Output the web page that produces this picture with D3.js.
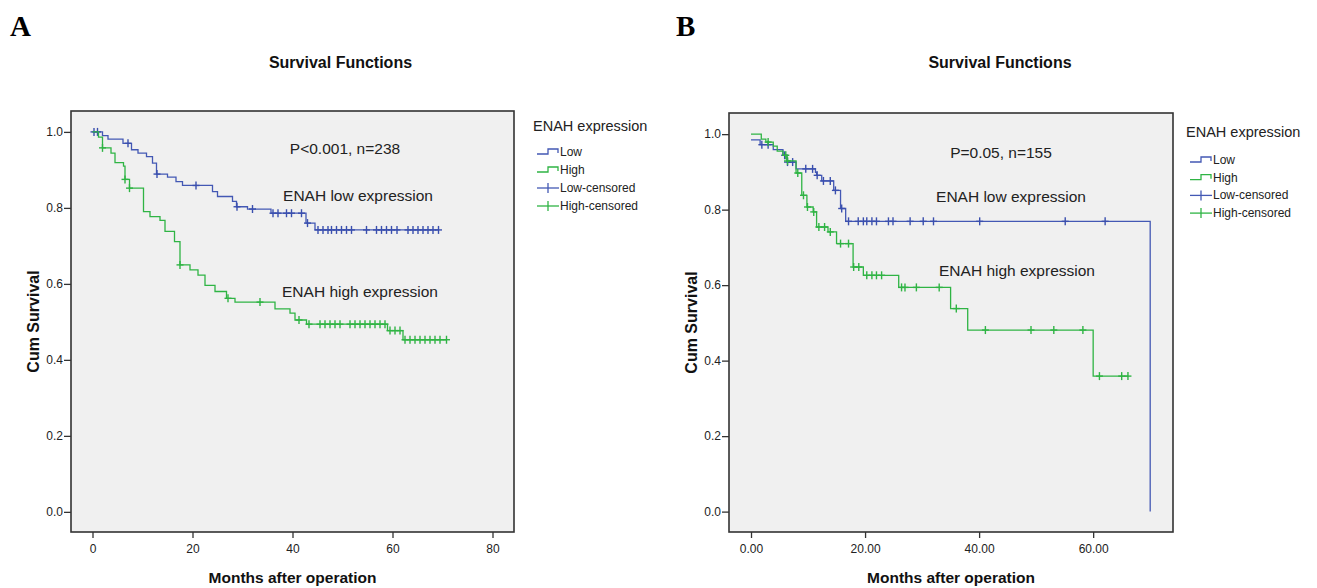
<!DOCTYPE html>
<html>
<head>
<meta charset="utf-8">
<script src="https://cdn.jsdelivr.net/npm/d3@7"></script>
<style>
  body { margin: 0; background: #fff; }
  text { font-family: "Liberation Sans", Arial, sans-serif; }
</style>
</head>
<body>
<div id="chart-area"></div>
<script>
// ---- data ----
// panel A: step times (months) and survival after each step
var lowTimeA  = [0, 2, 3.1, 6.1, 7.8, 9.1, 10.8, 12, 12.8, 15, 16.7, 18, 24, 25, 28, 28.8, 31, 35.7, 42.7, 44.5];
var lowSurvA  = [1.0, 0.990, 0.981, 0.970, 0.953, 0.944, 0.935, 0.918, 0.889, 0.881, 0.869, 0.859, 0.843, 0.830, 0.817, 0.803, 0.797, 0.786, 0.760, 0.742];
var lowCensA  = [0.3, 1.0, 7.1, 12.9, 20.7, 28.9, 32, 36.1, 37.1, 38.8, 39.8, 41.8, 43, 45.1, 46.1, 47.1, 47.8, 48.8, 49.8, 50.8, 51.8, 54.8, 56.8, 57.8, 58.8, 59.8, 60.9, 63.1, 64.1, 65.1, 66.1, 67.1, 68.1, 69.2];

var highTimeA = [0, 1.2, 2, 3.7, 4.5, 6.2, 6.5, 7.4, 10.2, 11.5, 13.5, 14.5, 16.4, 17.5, 19.5, 21.1, 22.5, 24.5, 26.8, 28.5, 36.5, 39.5, 40.5, 42.8, 59, 62.1];
var highSurvA = [1.0, 0.986, 0.958, 0.944, 0.919, 0.910, 0.875, 0.852, 0.790, 0.777, 0.767, 0.738, 0.711, 0.650, 0.637, 0.623, 0.596, 0.580, 0.562, 0.552, 0.534, 0.523, 0.505, 0.494, 0.477, 0.453];
var highCensA = [2, 6.5, 7.4, 17.5, 27.1, 33.5, 41.3, 43.3, 45.5, 46.5, 47.5, 48.5, 49.5, 51.5, 52.5, 53.5, 54.5, 55.5, 56.5, 57.5, 58.5, 59.5, 60.5, 61.5, 62.5, 63.5, 64.5, 65.5, 66.5, 67.5, 68.5, 69.5, 70.8];

// panel B
var lowTimeB  = [0, 1.6, 3.9, 5.6, 6.3, 7.9, 11.3, 11.5, 12.4, 14.5, 15.7, 16.6, 70];
var lowSurvB  = [0.985, 0.972, 0.959, 0.944, 0.926, 0.908, 0.899, 0.891, 0.876, 0.851, 0.803, 0.769, 0];
var lowCensB  = [1.9, 3.0, 5.9, 6.4, 7.3, 9.6, 10.8, 11.6, 12.7, 13.9, 14.8, 15.9, 17.1, 18.8, 19.7, 20.3, 21.2, 22.0, 24.1, 24.9, 27.9, 30.2, 32.0, 40.1, 55.1, 62.1];

var highTimeB = [0, 1.8, 2.6, 3.9, 4.6, 5.6, 6.3, 7.9, 8.9, 9.8, 10.9, 11.5, 13.5, 15.0, 17.9, 19.7, 25.9, 35.0, 38.0, 60.0];
var highSurvB = [1.0, 0.987, 0.979, 0.968, 0.955, 0.944, 0.929, 0.897, 0.838, 0.807, 0.794, 0.754, 0.741, 0.710, 0.648, 0.626, 0.594, 0.538, 0.481, 0.359];
var highCensB = [3.0, 6.1, 6.4, 8.2, 9.2, 9.9, 11.0, 11.9, 12.9, 13.9, 15.7, 17.1, 18.0, 18.9, 20.3, 21.2, 22.0, 22.9, 26.4, 27.0, 29.0, 33.0, 36.0, 41.1, 49.1, 53.1, 58.2, 61.1, 65.0, 66.1];

var xTicksA = [0, 20, 40, 60, 80];
var xTicksB = [0, 20, 40, 60];
var yTicks  = [0, 0.2, 0.4, 0.6, 0.8, 1.0];
var legendLabels = ["Low", "High", "Low-censored", "High-censored"];

var blue  = "#4358b4";
var green = "#2fb444";

var svg = d3.select("#chart-area")
    .append("svg")
        .attr("width", 1317)
        .attr("height", 588);

function survAt(times, surv, t) {
    var s = surv[0];
    for (var i = 0; i < times.length; i++) {
        if (times[i] <= t) s = surv[i];
    }
    return s;
}

function drawPanel(p) {
    var x = d3.scaleLinear().domain(p.xDomain).range([p.left, p.right]);
    var y = d3.scaleLinear().domain(p.yDomain).range([p.bottom, p.top]);

    svg.append("text")
        .attr("x", p.letterX).attr("y", 36)
        .style("font-family", "Liberation Serif, Times New Roman, serif")
        .attr("font-weight", "bold")
        .attr("font-size", "29px")
        .text(p.letter);

    svg.append("text")
        .attr("x", (p.left + p.right) / 2 + p.titleShift).attr("y", 68)
        .attr("text-anchor", "middle")
        .attr("font-weight", "bold")
        .attr("font-size", "16px")
        .attr("fill", "#111")
        .text("Survival Functions");

    svg.append("rect")
        .attr("x", p.left).attr("y", p.top)
        .attr("width", p.right - p.left).attr("height", p.bottom - p.top)
        .attr("fill", "#f0f0f0")
        .attr("stroke", "#333")
        .attr("stroke-width", 1.6);

    var yAxis = svg.append("g")
        .attr("transform", "translate(" + p.left + ",0)")
        .call(d3.axisLeft(y).tickValues(yTicks).tickFormat(d3.format(".1f")).tickSize(7).tickSizeOuter(0).tickPadding(1));
    yAxis.select(".domain").remove();
    yAxis.selectAll("line").attr("stroke", "#333").attr("stroke-width", 1.3);
    yAxis.selectAll("text").attr("font-size", "12px").attr("fill", "#222")
        .style("font-family", "Liberation Sans, Arial, sans-serif");

    var xAxis = svg.append("g")
        .attr("transform", "translate(0," + p.bottom + ")")
        .call(d3.axisBottom(x).tickValues(p.xTicks).tickFormat(p.xFormat).tickSize(6).tickSizeOuter(0).tickPadding(6));
    xAxis.select(".domain").remove();
    xAxis.selectAll("line").attr("stroke", "#333").attr("stroke-width", 1.3);
    xAxis.selectAll("text").attr("font-size", "12px").attr("fill", "#222")
        .style("font-family", "Liberation Sans, Arial, sans-serif");

    svg.append("text")
        .attr("x", (p.left + p.right) / 2).attr("y", 583)
        .attr("text-anchor", "middle")
        .attr("font-weight", "bold")
        .attr("font-size", "15.5px")
        .attr("fill", "#111")
        .text("Months after operation");

    svg.append("text")
        .attr("transform", "translate(" + p.yLabelX + "," + (p.top + p.bottom) / 2 + ") rotate(-90)")
        .attr("text-anchor", "middle")
        .attr("font-weight", "bold")
        .attr("font-size", "16px")
        .attr("fill", "#111")
        .text("Cum Survival");

    var line = d3.line()
        .x(function(d) { return x(d[0]); })
        .y(function(d) { return y(d[1]); })
        .curve(d3.curveStepAfter);

    p.series.forEach(function(s) {
        var pts = s.times.map(function(t, i) { return [t, s.surv[i]]; });
        var lastT = d3.max(s.cens);
        if (lastT > s.times[s.times.length - 1]) {
            pts.push([lastT, s.surv[s.surv.length - 1]]);
        }
        svg.append("path")
            .attr("d", line(pts))
            .attr("fill", "none")
            .attr("stroke", s.color)
            .attr("stroke-width", 1.3);

        var marks = svg.append("g").selectAll("g")
            .data(s.cens)
            .enter()
            .append("g")
                .attr("transform", function(t) {
                    return "translate(" + x(t) + "," + y(survAt(s.times, s.surv, t)) + ")";
                });
        marks.append("line")
            .attr("x1", 0).attr("x2", 0).attr("y1", -4).attr("y2", 4)
            .attr("stroke", s.markColor).attr("stroke-width", 1.4);
        marks.append("line")
            .attr("x1", -3.5).attr("x2", 3.5).attr("y1", 0).attr("y2", 0)
            .attr("stroke", s.markColor).attr("stroke-width", 1.4);
    });

    p.notes.forEach(function(n) {
        svg.append("text")
            .attr("x", n.x).attr("y", n.y)
            .attr("text-anchor", "middle")
            .attr("font-size", "15.5px")
            .attr("fill", "#222")
            .text(n.text);
    });

    // legend
    var lg = svg.append("g").attr("transform", "translate(" + p.legX + "," + p.legY + ")");
    lg.append("text")
        .attr("x", 0).attr("y", 0)
        .attr("font-size", "14.5px")
        .attr("fill", "#222")
        .text("ENAH expression");
    var colors = [blue, green, blue, green];
    legendLabels.forEach(function(lab, i) {
        var cy = p.legFirst + i * p.legStep;
        var c = colors[i];
        if (i < 2) {
            lg.append("path")
                .attr("d", "M4," + (cy + 2) + "H15V" + (cy - 3) + "H25V" + (cy + 1))
                .attr("fill", "none").attr("stroke", c).attr("stroke-width", 1.3);
        } else {
            lg.append("line").attr("x1", 4).attr("x2", 26).attr("y1", cy).attr("y2", cy)
                .attr("stroke", c).attr("stroke-width", 1.3);
            lg.append("line").attr("x1", 15).attr("x2", 15).attr("y1", cy - 5).attr("y2", cy + 5)
                .attr("stroke", c).attr("stroke-width", 1.3);
        }
        lg.append("text")
            .attr("x", 27).attr("y", cy + 4)
            .attr("font-size", "12px")
            .attr("fill", "#222")
            .text(lab);
    });
}

drawPanel({
    letter: "A", letterX: 10, titleShift: 48,
    left: 71, right: 514, top: 111, bottom: 532,
    xDomain: [-4.3, 84.3], yDomain: [-0.053, 1.055],
    xTicks: xTicksA, xFormat: d3.format("d"),
    yLabelX: 39,
    series: [
        { times: lowTimeA,  surv: lowSurvA,  cens: lowCensA,  color: blue,  markColor: "#3a4fae" },
        { times: highTimeA, surv: highSurvA, cens: highCensA, color: green, markColor: green }
    ],
    notes: [
        { x: 345, y: 154, text: "P<0.001, n=238" },
        { x: 358, y: 201, text: "ENAH low expression" },
        { x: 360, y: 297, text: "ENAH high expression" }
    ],
    legX: 533, legY: 131, legFirst: 21, legStep: 18
});

drawPanel({
    letter: "B", letterX: 676, titleShift: 49,
    left: 729, right: 1173, top: 113, bottom: 532,
    xDomain: [-3.86, 74.0], yDomain: [-0.054, 1.056],
    xTicks: xTicksB, xFormat: d3.format(".2f"),
    yLabelX: 697,
    series: [
        { times: lowTimeB,  surv: lowSurvB,  cens: lowCensB,  color: blue,  markColor: "#3a4fae" },
        { times: highTimeB, surv: highSurvB, cens: highCensB, color: green, markColor: green }
    ],
    notes: [
        { x: 1001, y: 158, text: "P=0.05, n=155" },
        { x: 1011, y: 202, text: "ENAH low expression" },
        { x: 1017, y: 276, text: "ENAH high expression" }
    ],
    legX: 1186, legY: 137, legFirst: 23, legStep: 17.7
});
</script>
</body>
</html>
